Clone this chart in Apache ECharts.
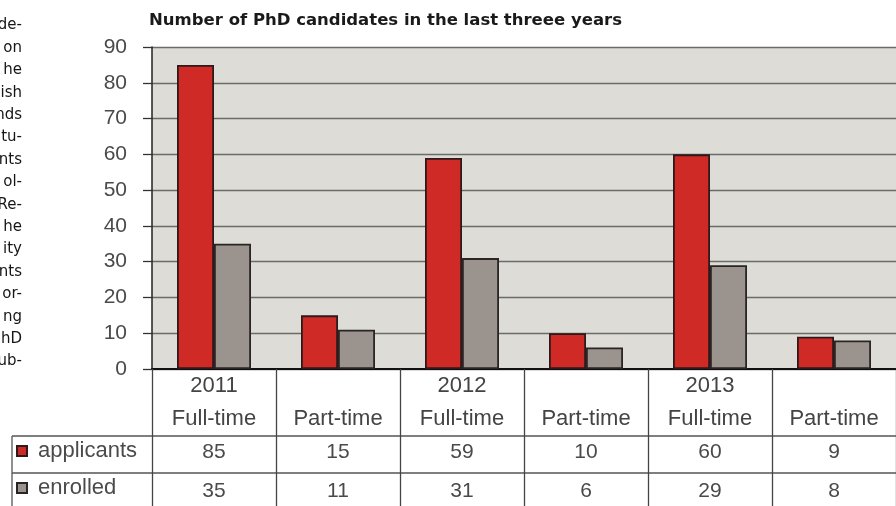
<!DOCTYPE html>
<html>
<head>
<meta charset="utf-8">
<script src="https://cdn.jsdelivr.net/npm/echarts@6/dist/echarts.min.js"></script>
<style>
  html, body { margin: 0; padding: 0; background: #ffffff; }
  #chart { width: 896px; height: 506px; }
</style>
</head>
<body>
<div id="chart"></div>
<script>
// Category columns of the chart and its data table
const years = ['2011', '', '2012', '', '2013', ''];
const studyModes = ['Full-time', 'Part-time', 'Full-time', 'Part-time', 'Full-time', 'Part-time'];
const categories = years.map((y, i) => (y ? y + ' ' : '') + studyModes[i]);

// Series values
const applicants = [85, 15, 59, 10, 60, 9];
const enrolled = [35, 11, 31, 6, 29, 8];

// Value axis
const yMin = 0;
const yMax = 90;
const yStep = 10;

// Word endings of the neighbouring text column
const marginWords = ['de-', 'on', 'he', 'ish', 'nds', 'tu-', 'nts', 'ol-', 'Re-', 'he', 'ity', 'nts', 'or-', 'ng', 'hD', 'ub-'];

const FONT = '"Liberation Sans", Arial, sans-serif';
const chart = echarts.init(document.getElementById('chart'), null, { renderer: 'canvas' });

const textColumn = marginWords.map((w, i) => ({
  type: 'text',
  right: 874,
  top: 18 + i * 22.4,
  style: { text: w, font: '15px "DejaVu Sans", Verdana, sans-serif', fill: '#161616', textAlign: 'right' }
}));

const tableLines = [
  { type: 'line', shape: { x1: 12, y1: 436, x2: 896, y2: 436 }, style: { stroke: '#555', lineWidth: 1.3 } },
  { type: 'line', shape: { x1: 12, y1: 473, x2: 896, y2: 473 }, style: { stroke: '#555', lineWidth: 1.3 } },
  { type: 'line', shape: { x1: 12, y1: 436, x2: 12, y2: 506 }, style: { stroke: '#555', lineWidth: 1.3 } }
];

chart.setOption({
  animation: false,
  backgroundColor: '#ffffff',
  title: {
    text: 'Number of PhD candidates in the last threee years',
    left: 149,
    top: 11,
    padding: 0,
    textStyle: {
      fontFamily: '"DejaVu Sans", Verdana, sans-serif',
      fontWeight: 'bold',
      fontSize: 16.5,
      lineHeight: 20,
      color: '#1a1a1a'
    }
  },
  legend: {
    orient: 'vertical',
    left: 16,
    top: 440,
    padding: 0,
    itemWidth: 10,
    itemHeight: 10,
    itemGap: 15,
    icon: 'rect',
    selectedMode: false,
    textStyle: {
      fontFamily: FONT,
      fontSize: 22,
      lineHeight: 22,
      color: '#4a4a4a',
      padding: [0, 0, 0, 6]
    },
    data: ['applicants', 'enrolled']
  },
  grid: {
    left: 152,
    right: -8,
    top: 47,
    bottom: 137,
    show: true,
    backgroundColor: '#dddcd6',
    borderWidth: 0,
    containLabel: false
  },
  xAxis: {
    type: 'category',
    data: categories,
    axisLine: { show: true, lineStyle: { color: '#111', width: 2 } },
    axisTick: { show: true, alignWithLabel: false, length: 137, lineStyle: { color: '#444', width: 1.3 } },
    axisLabel: {
      interval: 0,
      margin: 1,
      hideOverlap: false,
      formatter: (value, i) =>
        '{y|' + (years[i] || ' ') + '}\n{t|' + studyModes[i] + '}\n{a|' + applicants[i] + '}\n{e|' + enrolled[i] + '}',
      rich: {
        y: { fontFamily: FONT, fontSize: 22, lineHeight: 32, color: '#444' },
        t: { fontFamily: FONT, fontSize: 22, lineHeight: 33, color: '#444' },
        a: { fontFamily: FONT, fontSize: 21, lineHeight: 35, color: '#4a4a4a' },
        e: { fontFamily: FONT, fontSize: 21, lineHeight: 43, color: '#4a4a4a' }
      }
    },
    splitLine: { show: false }
  },
  yAxis: {
    type: 'value',
    min: yMin,
    max: yMax,
    interval: yStep,
    axisLine: { show: true, lineStyle: { color: '#222', width: 1.5 } },
    axisTick: { show: true, length: 9, lineStyle: { color: '#333', width: 1.3 } },
    axisLabel: { margin: 25, fontFamily: FONT, fontSize: 21, color: '#4a4a4a' },
    splitLine: { show: true, lineStyle: { color: '#6b6b6b', width: 1.3 } }
  },
  series: [
    {
      name: 'applicants',
      type: 'bar',
      data: applicants,
      barWidth: 37,
      barGap: '0%',
      itemStyle: { color: '#d02a27', borderColor: '#2e1a1a', borderWidth: 1.8 }
    },
    {
      name: 'enrolled',
      type: 'bar',
      data: enrolled,
      barWidth: 37,
      barGap: '0%',
      itemStyle: { color: '#9b948e', borderColor: '#2a2424', borderWidth: 1.8 }
    }
  ],
  graphic: textColumn.concat(tableLines)
});
</script>
</body>
</html>
